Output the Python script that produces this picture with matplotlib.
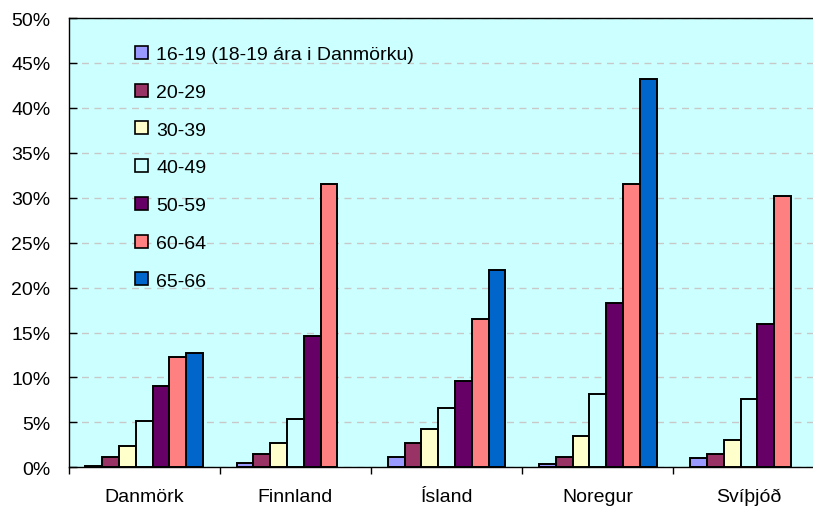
import matplotlib
matplotlib.use("Agg")
import matplotlib.pyplot as plt
from matplotlib.patches import Patch
from matplotlib.ticker import MultipleLocator, PercentFormatter
import numpy as np

plt.rcParams["font.family"] = ["Liberation Sans", "DejaVu Sans"]

countries = ["Danmörk", "Finnland", "Ísland", "Noregur", "Svíþjóð"]
age_groups = [
    "16-19 (18-19 ára i Danmörku)",
    "20-29",
    "30-39",
    "40-49",
    "50-59",
    "60-64",
    "65-66",
]
colors = ["#9999FF", "#993366", "#FFFFCC", "#CCFFFF", "#660066", "#FF8080", "#0066CC"]

# percent per age group, one list per country (None = no bar)
danmork = [0.2, 1.2, 2.4, 5.1, 9.0, 12.3, 12.7]
finnland = [0.45, 1.45, 2.7, 5.35, 14.6, 31.5, None]
island = [1.2, 2.7, 4.3, 6.55, 9.6, 16.45, 22.0]
noregur = [0.4, 1.2, 3.5, 8.2, 18.3, 31.5, 43.2]
svithjod = [1.0, 1.45, 3.05, 7.6, 15.9, 30.2, None]

values = [danmork, finnland, island, noregur, svithjod]

fig = plt.figure(figsize=(8.13, 5.10), dpi=100)
ax = fig.add_axes([68.5 / 813, 41.7 / 510, 756 / 813, 449.3 / 510])
ax.set_facecolor("#CCFFFF")

slot = 1 / 9
for j, (label, color) in enumerate(zip(age_groups, colors)):
    xs, hs = [], []
    for i, row in enumerate(values):
        if row[j] is None:
            continue
        xs.append(i + (j + 1.5) * slot)
        hs.append(row[j])
    ax.bar(xs, hs, width=slot, color=color, edgecolor="black",
           linewidth=1.4, zorder=3, label=label)

ax.set_xlim(0, 5)
ax.set_ylim(0, 50)
ax.yaxis.set_major_locator(MultipleLocator(5))
ax.yaxis.set_major_formatter(PercentFormatter(decimals=0))
ax.yaxis.grid(True, color="#C8C8C8", linestyle=(0, (5, 4)), linewidth=1, zorder=1)

ax.set_xticks(np.arange(0, 6))
ax.set_xticklabels([])
ax.set_xticks(np.arange(5) + 0.5, minor=True)
ax.set_xticklabels(countries, minor=True, fontsize=14)
ax.tick_params(axis="x", which="major", direction="out", length=5, width=1)
ax.tick_params(axis="x", which="minor", length=0, pad=15)
ax.tick_params(axis="y", direction="in", length=6, width=1, labelsize=14, pad=13)

for side in ["left", "top", "bottom", "right"]:
    ax.spines[side].set_color("black")
    ax.spines[side].set_linewidth(1)

handles = [Patch(facecolor=c, edgecolor="black", linewidth=1.2) for c in colors]
ax.legend(handles, age_groups, loc="upper left", bbox_to_anchor=(0.088, 0.938),
          frameon=False, fontsize=14, handlelength=0.65, handleheight=0.65,
          handletextpad=0.45, labelspacing=1.05, borderpad=0, borderaxespad=0)

fig.savefig("out.png", dpi=100)
